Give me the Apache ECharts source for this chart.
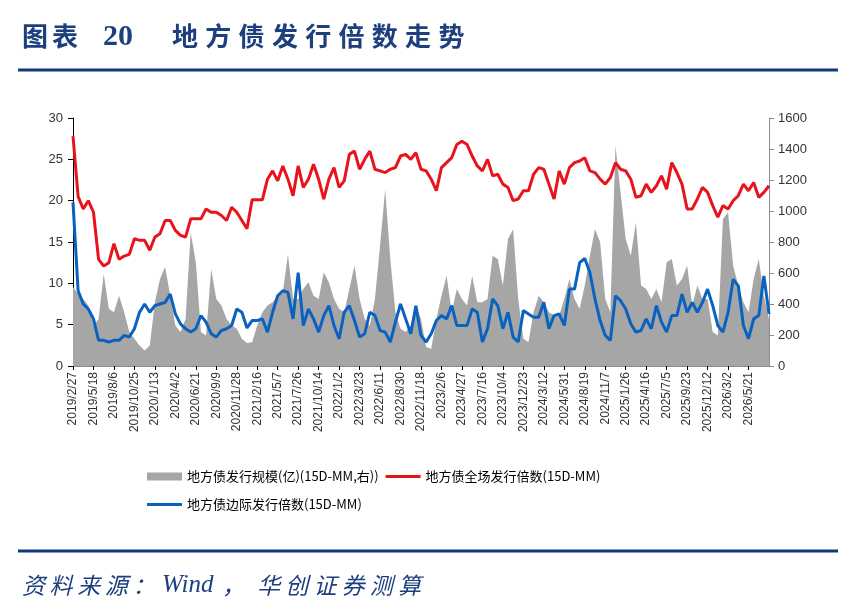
<!DOCTYPE html>
<html>
<head>
<meta charset="utf-8">
<script src="https://cdn.jsdelivr.net/npm/echarts@6/dist/echarts.min.js"></script>
<style>
  html, body { margin: 0; padding: 0; background: #fff; }
  #chart { width: 853px; height: 610px; }
</style>
</head>
<body>
<div id="chart"></div>
<script>
// 20日一个点，起点 2019/2/27
const startDay = Date.UTC(2019, 1, 27);
const stepDays = 20;

// 地方债全场发行倍数(15D-MM)，左轴
const fullMultiple = [
  27.8, 20.5, 19.0, 20.0, 18.6, 12.9, 12.1, 12.5, 14.8, 12.9,
  13.3, 13.5, 15.4, 15.2, 15.2, 14.0, 15.6, 16.0, 17.6, 17.6,
  16.4, 15.8, 15.6, 17.8, 17.8, 17.8, 19.0, 18.6, 18.6, 18.2,
  17.6, 19.2, 18.6, 17.6, 16.6, 20.1, 20.1, 20.1, 22.6, 23.6,
  22.4, 24.2, 22.6, 20.6, 24.2, 21.6, 22.6, 24.4, 22.6, 20.2,
  22.6, 24.0, 21.6, 22.4, 25.6, 26.0, 23.8, 25.0, 26.0, 23.8,
  23.6, 23.4, 23.8, 24.0, 25.4, 25.6, 25.0, 25.8, 23.8, 23.6,
  22.6, 21.2, 24.0, 24.6, 25.2, 26.8, 27.2, 26.8, 25.4, 24.2,
  23.6, 25.0, 23.0, 23.2, 22.0, 21.6, 20.0, 20.2, 21.2, 21.2,
  23.2, 24.0, 23.8, 22.0, 20.2, 23.6, 22.0, 24.0, 24.6, 24.8,
  25.2, 23.6, 23.4, 22.6, 22.0, 22.8, 24.6, 23.8, 23.6, 22.6,
  20.4, 20.6, 22.0, 21.0, 21.8, 23.0, 21.4, 24.6, 23.4, 22.0,
  19.0, 19.0, 20.2, 21.6, 21.0, 19.4, 18.0, 19.4, 19.0, 20.0,
  20.6, 22.0, 21.2, 22.2, 20.4, 21.0, 21.8
];

// 地方债边际发行倍数(15D-MM)，左轴
const marginMultiple = [
  19.8, 9.1, 7.5, 6.9, 5.7, 3.1, 3.1, 2.9, 3.1, 3.1,
  3.7, 3.5, 4.5, 6.5, 7.5, 6.5, 7.3, 7.5, 7.7, 8.7,
  6.3, 5.1, 4.5, 4.1, 4.5, 6.1, 5.3, 3.9, 3.5, 4.3,
  4.5, 4.9, 6.9, 6.5, 4.6, 5.5, 5.5, 5.7, 4.1, 6.5,
  8.5, 9.1, 8.9, 5.7, 11.3, 4.9, 6.9, 5.7, 4.1, 6.1,
  7.3, 4.9, 3.3, 6.5, 7.3, 5.5, 3.5, 3.9, 6.5, 6.1,
  4.3, 4.1, 2.9, 5.3, 7.5, 5.7, 3.9, 7.3, 3.7, 2.9,
  3.9, 5.5, 6.1, 5.7, 7.3, 4.9, 4.9, 4.9, 6.9, 6.5,
  2.9, 4.5, 8.1, 7.3, 4.5, 6.5, 3.5, 2.9, 6.7, 6.3,
  5.9, 5.9, 7.7, 4.5, 6.1, 6.3, 4.9, 9.3, 9.3, 12.5,
  13.0, 11.3, 8.1, 5.5, 3.7, 3.1, 8.5, 7.9, 6.9, 5.1,
  4.1, 4.3, 5.7, 4.5, 7.3, 5.3, 4.1, 6.1, 6.1, 8.7,
  6.5, 7.7, 6.5, 7.7, 9.3, 7.3, 4.9, 4.1, 6.5, 10.5,
  9.7, 4.9, 3.3, 5.7, 6.1, 10.9, 6.3
];

// 地方债发行规模(亿)(15D-MM)，右轴
const issueScale = [
  510, 465, 433, 390, 262, 304, 594, 369, 347, 454,
  347, 219, 176, 133, 100, 133, 412, 562, 640, 454,
  262, 219, 304, 862, 669, 219, 197, 626, 433, 390,
  304, 262, 240, 176, 148, 154, 262, 347, 390, 412,
  454, 476, 720, 433, 433, 497, 540, 454, 433, 605,
  540, 433, 369, 347, 497, 647, 433, 304, 262, 433,
  776, 1141, 690, 347, 240, 219, 262, 390, 304, 122,
  111, 304, 454, 583, 347, 497, 433, 390, 583, 412,
  412, 433, 712, 690, 519, 819, 883, 433, 176, 154,
  347, 454, 412, 347, 326, 326, 433, 562, 433, 369,
  519, 712, 883, 800, 433, 347, 1419, 1119, 819, 712,
  926, 519, 497, 433, 497, 412, 669, 690, 519, 562,
  647, 390, 519, 433, 433, 219, 197, 948, 990, 647,
  519, 412, 347, 562, 690, 454, 304
];

const dates = fullMultiple.map(function (v, i) {
  const d = new Date(startDay + i * stepDays * 86400000);
  return d.getUTCFullYear() + '/' + (d.getUTCMonth() + 1) + '/' + d.getUTCDate();
});

// 每 4 个点（80 天）一个刻度，最后一个标签为 2026/5/21
const lastLabel = 132;
function showTick(i) { return i % 4 === 0 && i <= lastLabel; }

const navy = '#1d3f7e';
const cjk = '"Noto Sans CJK SC", sans-serif';

// 逐字排版（原图字距较宽）
function spaced(text, x, y, adv, style) {
  return text.split('').map(function (ch, k) {
    return {
      type: 'text',
      x: x + k * adv,
      y: y,
      style: Object.assign({ text: ch, verticalAlign: 'middle' }, style)
    };
  });
}

const titleStyle = { fill: navy, fontSize: 26, fontWeight: 'bold', fontFamily: cjk };
const srcStyle = { fill: navy, fontSize: 23, fontStyle: 'italic', fontFamily: cjk };

const graphics = [].concat(
  spaced('图表', 22, 36, 30, titleStyle),
  [{ type: 'text', x: 103, y: 37, style: { text: '20', verticalAlign: 'middle', fill: navy,
      fontSize: 30, fontWeight: 'bold', fontFamily: '"Liberation Serif", serif' } }],
  spaced('地方债发行倍数走势', 172, 36, 33.3, titleStyle),
  [
    { type: 'rect', shape: { x: 18, y: 68.5, width: 820, height: 3 }, style: { fill: '#0d3a7c' } },
    { type: 'rect', shape: { x: 18, y: 549.5, width: 820, height: 3 }, style: { fill: '#0d3a7c' } }
  ],
  spaced('资料来源：', 22, 585, 27.6, srcStyle),
  [{ type: 'text', x: 162, y: 585, style: { text: 'Wind', verticalAlign: 'middle', fill: navy,
      fontSize: 25, fontStyle: 'italic', fontFamily: '"Liberation Serif", serif' } }],
  spaced('，', 222, 585, 28, srcStyle),
  spaced('华创证券测算', 257, 585, 28.2, srcStyle)
);

const chart = echarts.init(document.getElementById('chart'), null, { renderer: 'canvas' });

const legendText = { fontSize: 13, color: '#000', fontFamily: cjk };
const lineIcon = 'path://M0,0H35V3H0Z';

const option = {
  backgroundColor: '#fff',
  animation: false,
  graphic: graphics,
  grid: { left: 73, right: 84, top: 118, bottom: 244 },
  legend: [{
    left: 142, top: 465, itemWidth: 35, itemHeight: 8, itemGap: 7,
    textStyle: legendText,
    data: [
      { name: '地方债发行规模(亿)(15D-MM,右))', icon: 'rect' },
      { name: '地方债全场发行倍数(15D-MM)', icon: lineIcon }
    ]
  }, {
    left: 142, top: 493, itemWidth: 35, itemHeight: 8,
    textStyle: legendText,
    data: [{ name: '地方债边际发行倍数(15D-MM)', icon: lineIcon }]
  }],
  xAxis: {
    type: 'category',
    data: dates,
    boundaryGap: false,
    axisLine: { lineStyle: { color: '#8c8c8c', width: 1 } },
    axisTick: { interval: showTick, length: 4, lineStyle: { color: '#000' } },
    axisLabel: {
      interval: showTick, rotate: 90, margin: 6,
      fontSize: 12, color: '#333', fontFamily: '"Liberation Sans", Arial, sans-serif'
    },
    splitLine: { show: false }
  },
  yAxis: [{
    type: 'value', min: 0, max: 30, interval: 5,
    axisLine: { show: true, lineStyle: { color: '#000' } },
    axisTick: { show: true, length: 5, lineStyle: { color: '#000' } },
    axisLabel: { margin: 10, fontSize: 13, color: '#333', fontFamily: '"Liberation Sans", Arial, sans-serif' },
    splitLine: { show: false }
  }, {
    type: 'value', min: 0, max: 1600, interval: 200, position: 'right',
    axisLine: { show: true, lineStyle: { color: '#8c8c8c' } },
    axisTick: { show: true, length: 5, lineStyle: { color: '#8c8c8c' } },
    axisLabel: {
      margin: 9, fontSize: 13, color: '#333', fontFamily: '"Liberation Sans", Arial, sans-serif',
      formatter: function (v) { return String(v); }
    },
    splitLine: { show: false }
  }],
  series: [{
    name: '地方债发行规模(亿)(15D-MM,右))',
    type: 'line',
    yAxisIndex: 1,
    data: issueScale,
    symbol: 'none',
    lineStyle: { width: 0, color: '#a6a6a6' },
    itemStyle: { color: '#a6a6a6' },
    areaStyle: { color: '#a6a6a6', opacity: 1 },
    z: 1
  }, {
    name: '地方债边际发行倍数(15D-MM)',
    type: 'line',
    data: marginMultiple,
    symbol: 'none',
    lineStyle: { width: 3, color: '#0a62c0' },
    itemStyle: { color: '#0a62c0' },
    z: 2
  }, {
    name: '地方债全场发行倍数(15D-MM)',
    type: 'line',
    data: fullMultiple,
    symbol: 'none',
    lineStyle: { width: 3, color: '#e8131b' },
    itemStyle: { color: '#e8131b' },
    z: 3
  }]
};

chart.setOption(option);
</script>
</body>
</html>
